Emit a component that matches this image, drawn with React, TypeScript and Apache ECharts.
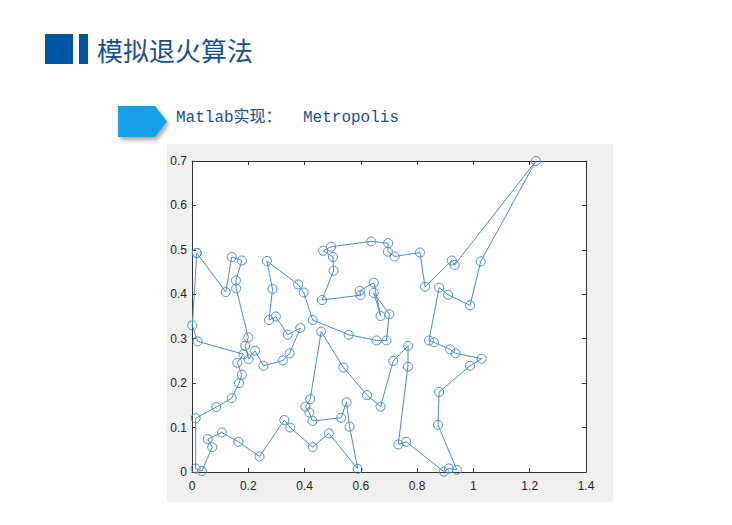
import React, { useEffect, useRef } from "react";
import * as echarts from "echarts";

const titleText = "模拟退火算法";
const subtitleLead = "Matlab实现：";
const subtitleTail = "Metropolis";

const xTicks = { min: 0, max: 1.4, interval: 0.2 };
const yTicks = { min: 0, max: 0.7, interval: 0.1 };

// tour order (city coordinates)
const tourX = [
  0.017, 0.120, 0.141, 0.177, 0.156, 0.157, 0.200, 0.189, 0.201, 0.224,
  0.254, 0.323, 0.347, 0.385, 0.340, 0.298, 0.274, 0.286, 0.266, 0.377,
  0.397, 0.429, 0.557, 0.656, 0.691, 0.701, 0.646, 0.670, 0.646, 0.596,
  0.599, 0.462, 0.503, 0.501, 0.466, 0.494, 0.637, 0.697, 0.696, 0.720,
  0.810, 0.828, 0.923, 0.933, 1.222, 1.026, 0.988, 0.910, 0.878, 0.842,
  0.860, 0.917, 0.937, 1.029, 0.988, 0.878, 0.874, 0.941, 0.913, 0.895,
  0.761, 0.733, 0.767, 0.768, 0.715, 0.670, 0.622, 0.538, 0.459, 0.420,
  0.403, 0.417, 0.428, 0.530, 0.549, 0.560, 0.589, 0.486, 0.429, 0.349,
  0.328, 0.240, 0.165, 0.106, 0.056, 0.072, 0.035, 0.013, 0.013, 0.086,
  0.141, 0.167, 0.177, 0.161, 0.183, 0.020, 0.001,
];
const tourY = [
  0.493, 0.405, 0.484, 0.476, 0.431, 0.413, 0.303, 0.284, 0.254, 0.273,
  0.239, 0.251, 0.267, 0.324, 0.309, 0.350, 0.342, 0.412, 0.475, 0.422,
  0.404, 0.342, 0.309, 0.296, 0.296, 0.355, 0.403, 0.351, 0.426, 0.408,
  0.398, 0.387, 0.453, 0.484, 0.498, 0.507, 0.519, 0.515, 0.496, 0.485,
  0.494, 0.417, 0.476, 0.466, 0.700, 0.474, 0.375, 0.399, 0.415, 0.296,
  0.292, 0.276, 0.267, 0.255, 0.239, 0.180, 0.106, 0.005, 0.008, 0.001,
  0.068, 0.062, 0.237, 0.284, 0.250, 0.147, 0.173, 0.235, 0.316, 0.164,
  0.147, 0.134, 0.115, 0.122, 0.157, 0.102, 0.007, 0.087, 0.056, 0.100,
  0.117, 0.035, 0.068, 0.089, 0.074, 0.056, 0.002, 0.008, 0.121, 0.146,
  0.166, 0.200, 0.219, 0.246, 0.265, 0.294, 0.330,
];

export default function App() {
  const ref = useRef<HTMLDivElement>(null);
  useEffect(() => {
    document.body.style.margin = "0";
    if (!ref.current) return;
    const chart = echarts.init(ref.current, undefined, { renderer: "svg" });
    const pts = tourX.map((x, i) => [x, tourY[i]]);
    const closed = [...pts, pts[0]];
    const axisColor = "#333333";
    const labelFont = { fontFamily: "Liberation Sans", fontSize: 12, color: "#222222" };
    const markColor = "#4a8cc6";
    chart.setOption({
      animation: false,
      backgroundColor: "#ffffff",
      graphic: [
        { type: "rect", z: -10, shape: { x: 167, y: 144, width: 446, height: 358 }, style: { fill: "#f0f0f0" } },
        { type: "rect", z: -9, shape: { x: 192, y: 161, width: 394, height: 311 }, style: { fill: "#ffffff" } },
        { type: "rect", shape: { x: 45, y: 34, width: 28, height: 30 }, style: { fill: "#0054a6" } },
        { type: "rect", shape: { x: 79, y: 34, width: 9, height: 30 }, style: { fill: "#0054a6" } },
        {
          type: "text", x: 97, y: 49,
          style: { text: titleText, font: '26px "Noto Sans CJK SC"', fill: "#1b4f8c", verticalAlign: "middle" },
        },
        {
          type: "polygon",
          shape: { points: [[118, 106], [155, 106], [167, 121.5], [155, 137], [118, 137]] },
          style: { fill: "#14a0e8", shadowBlur: 4, shadowColor: "rgba(0,0,0,0.35)", shadowOffsetX: 2, shadowOffsetY: 3 },
        },
        {
          type: "text", x: 176, y: 118,
          style: { text: subtitleLead, font: '16px "Liberation Mono", "Noto Sans CJK SC"', fill: "#1b4f8c", verticalAlign: "middle" },
        },
        {
          type: "text", x: 303, y: 118,
          style: { text: subtitleTail, font: '16px "Liberation Mono"', fill: "#1b4f8c", verticalAlign: "middle" },
        },
      ],
      grid: { left: 192, top: 161, width: 394, height: 311, show: false },
      xAxis: [
        {
          type: "value", min: xTicks.min, max: xTicks.max, interval: xTicks.interval, position: "bottom",
          axisLine: { show: true, onZero: false, lineStyle: { color: axisColor, width: 1 } },
          axisTick: { show: true, inside: true, length: 4, lineStyle: { color: axisColor } },
          axisLabel: { ...labelFont, margin: 8 },
          splitLine: { show: false },
        },
        {
          type: "value", min: xTicks.min, max: xTicks.max, interval: xTicks.interval, position: "top",
          axisLine: { show: true, onZero: false, lineStyle: { color: axisColor, width: 1 } },
          axisTick: { show: true, inside: true, length: 4, lineStyle: { color: axisColor } },
          axisLabel: { show: false },
          splitLine: { show: false },
        },
      ],
      yAxis: [
        {
          type: "value", min: yTicks.min, max: yTicks.max, interval: yTicks.interval, position: "left",
          axisLine: { show: true, onZero: false, lineStyle: { color: axisColor, width: 1 } },
          axisTick: { show: true, inside: true, length: 4, lineStyle: { color: axisColor } },
          axisLabel: { ...labelFont, margin: 5 },
          splitLine: { show: false },
        },
        {
          type: "value", min: yTicks.min, max: yTicks.max, interval: yTicks.interval, position: "right",
          axisLine: { show: true, onZero: false, lineStyle: { color: axisColor, width: 1 } },
          axisTick: { show: true, inside: true, length: 4, lineStyle: { color: axisColor } },
          axisLabel: { show: false },
          splitLine: { show: false },
        },
      ],
      series: [
        {
          type: "line",
          data: closed,
          symbol: "circle",
          symbolSize: 9,
          showAllSymbol: true,
          lineStyle: { color: markColor, width: 1 },
          itemStyle: { color: "rgba(0,0,0,0)", borderColor: markColor, borderWidth: 1 },
          clip: false,
        },
      ],
    });
    return () => chart.dispose();
  }, []);
  return <div ref={ref} style={{ width: 732, height: 525 }} />;
}
